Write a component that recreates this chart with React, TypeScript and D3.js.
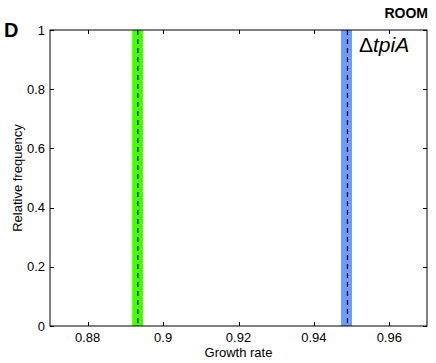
import React, { useEffect, useRef } from 'react';
import * as d3 from 'd3';

// histogram bins (growth rate interval) and relative frequency
const binStarts = [0.8918, 0.9472];
const binWidth = 0.0029;
const binFreq = [1, 1];
const binColors = ['#44ff00', '#6d9bff'];
// mean growth rate (dashed lines)
const means = [0.8933, 0.9489];

const xTicks = [0.88, 0.9, 0.92, 0.94, 0.96];
const yTicks = [0, 0.2, 0.4, 0.6, 0.8, 1];

export default function App() {
  const ref = useRef<SVGSVGElement>(null);

  useEffect(() => {
    const svg = d3.select(ref.current);
    svg.selectAll('*').remove();
    const left = 50, right = 427, top = 30, bottom = 326;
    const font = 'Liberation Sans, Arial, Helvetica, sans-serif';

    const x = d3.scaleLinear().domain([0.87, 0.97]).range([left, right]);
    const y = d3.scaleLinear().domain([0, 1]).range([bottom, top]);

    svg.append('rect').attr('width', 436).attr('height', 363).attr('fill', '#fff');

    svg.append('g').selectAll('rect').data(binStarts).join('rect')
      .attr('x', d => x(d))
      .attr('width', d => x(d + binWidth) - x(d))
      .attr('y', (d, i) => y(binFreq[i]))
      .attr('height', (d, i) => y(0) - y(binFreq[i]))
      .attr('fill', (d, i) => binColors[i]);

    svg.append('g').selectAll('line').data(means).join('line')
      .attr('x1', d => x(d)).attr('x2', d => x(d))
      .attr('y1', y(1)).attr('y2', y(0))
      .attr('stroke', '#000').attr('stroke-width', 1.2)
      .attr('stroke-dasharray', '5,4');

    const tl = 4;
    const ax = svg.append('g').attr('stroke', '#000').attr('stroke-width', 1).attr('fill', 'none');
    ax.append('rect').attr('x', left).attr('y', top).attr('width', right - left).attr('height', bottom - top);
    xTicks.forEach(t => {
      const px = Math.round(x(t)) + 0.5;
      ax.append('line').attr('x1', px).attr('x2', px).attr('y1', bottom).attr('y2', bottom - tl);
      ax.append('line').attr('x1', px).attr('x2', px).attr('y1', top).attr('y2', top + tl);
    });
    yTicks.forEach(t => {
      const py = Math.round(y(t)) + 0.5;
      ax.append('line').attr('x1', left).attr('x2', left + tl).attr('y1', py).attr('y2', py);
      ax.append('line').attr('x1', right).attr('x2', right - tl).attr('y1', py).attr('y2', py);
    });

    const txt = svg.append('g').attr('font-family', font).attr('fill', '#000');
    txt.selectAll('text.xt').data(xTicks).join('text')
      .attr('class', 'xt')
      .attr('x', d => x(d)).attr('y', 342)
      .attr('text-anchor', 'middle').attr('font-size', 13)
      .text(d => d3.format('')(d));
    txt.selectAll('text.yt').data(yTicks).join('text')
      .attr('class', 'yt')
      .attr('x', 45).attr('y', d => y(d) + 4.5)
      .attr('text-anchor', 'end').attr('font-size', 13)
      .text(d => String(d));

    txt.append('text').attr('x', (left + right) / 2).attr('y', 357)
      .attr('text-anchor', 'middle').attr('font-size', 13).text('Growth rate');
    txt.append('text')
      .attr('transform', `translate(22,${(top + bottom) / 2}) rotate(-90)`)
      .attr('text-anchor', 'middle').attr('font-size', 13).text('Relative frequency');

    txt.append('text').attr('x', 4).attr('y', 37).attr('font-size', 20)
      .attr('font-weight', 'bold').text('D');
    txt.append('text').attr('x', 428).attr('y', 18).attr('font-size', 14)
      .attr('font-weight', 'bold').attr('text-anchor', 'end').text('ROOM');

    const lab = txt.append('text').attr('x', 359).attr('y', 52).attr('font-size', 21);
    lab.append('tspan').text('\u0394');
    lab.append('tspan').attr('font-style', 'italic').text('tpiA');
  }, []);

  return (
    <svg ref={ref} width={436} height={363}
      style={{ position: 'absolute', left: 0, top: 0, display: 'block' }} />
  );
}
